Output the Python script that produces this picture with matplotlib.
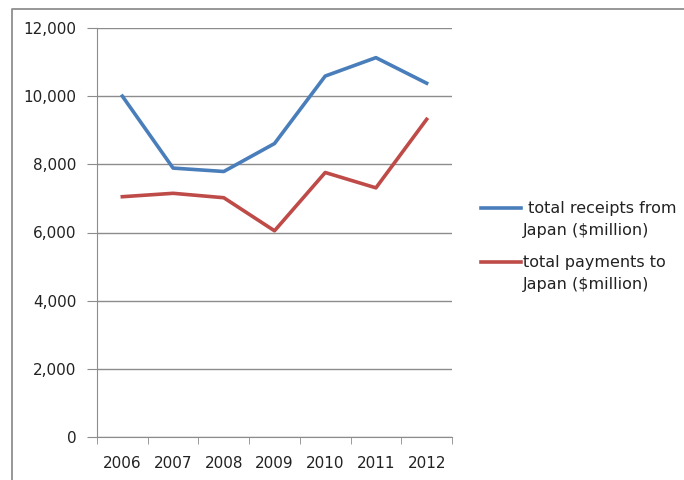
import matplotlib
matplotlib.use("Agg")
import matplotlib.pyplot as plt
from matplotlib.lines import Line2D
from matplotlib.ticker import FuncFormatter, FixedLocator

years = ["2006", "2007", "2008", "2009", "2010", "2011", "2012"]
receipts = [10000, 7890, 7790, 8610, 10590, 11130, 10380]
payments = [7050, 7150, 7020, 6050, 7760, 7310, 9320]
series_labels = [" total receipts from\nJapan ($million)", "total payments to\nJapan ($million)"]
colors = ["#4a7ebb", "#be4b48"]

plt.rcParams["font.family"] = ["DejaVu Sans"]
W, H = 684, 480

fig = plt.figure(figsize=(6.84, 4.8), dpi=100)
# outer chart-area frame: only its left and top edges are inside the crop
fig.add_artist(Line2D([12 / W, 12 / W, 1.0], [0.0, 1 - 8.5 / H, 1 - 8.5 / H], color="#8f8f8f",
                      lw=1.3, transform=fig.transFigure))
ax = fig.add_axes([97 / W, 1 - 437 / H, (452 - 97) / W, (437 - 28) / H])

x = list(range(len(years)))
for vals, c in zip([receipts, payments], colors):
    ax.plot(x, vals, color=c, lw=2.6, solid_joinstyle="round")

ax.set_xlim(-0.5, len(years) - 0.5)
ax.set_ylim(0, 12000)
ax.set_yticks(range(0, 12001, 2000))
ax.yaxis.set_major_formatter(FuncFormatter(lambda v, p: f"{int(v):,}"))
ax.grid(axis="y", color="#8c8c8c", lw=1)
ax.set_axisbelow(True)

ax.set_xticks(x)
ax.set_xticklabels(years)
ax.xaxis.set_minor_locator(FixedLocator([i - 0.5 for i in range(len(years) + 1)]))
ax.tick_params(axis="x", which="major", length=0, pad=14, labelsize=11, colors="#222222")
ax.tick_params(axis="x", which="minor", length=5, color="#8c8c8c", direction="out")
ax.tick_params(axis="y", length=7, pad=8, labelsize=11, colors="#222222")
ax.tick_params(axis="y", color="#8c8c8c")

for s in ["top", "right"]:
    ax.spines[s].set_visible(False)
for s in ["left", "bottom"]:
    ax.spines[s].set_color("#8c8c8c")

# legend drawn by hand: handle aligned with first text line, like the original
for k, (lab, c) in enumerate(zip(series_labels, colors)):
    y0 = 208 + k * 54
    fig.add_artist(Line2D([481 / W, 521 / W], [1 - y0 / H] * 2, color=c, lw=2.6,
                          transform=fig.transFigure))
    for j, line in enumerate(lab.split("\n")):
        fig.text(523 / W, 1 - (y0 + j * 22) / H, line, fontsize=11.5, color="#222222",
                 va="center", ha="left")

fig.savefig("out.png", dpi=100)
